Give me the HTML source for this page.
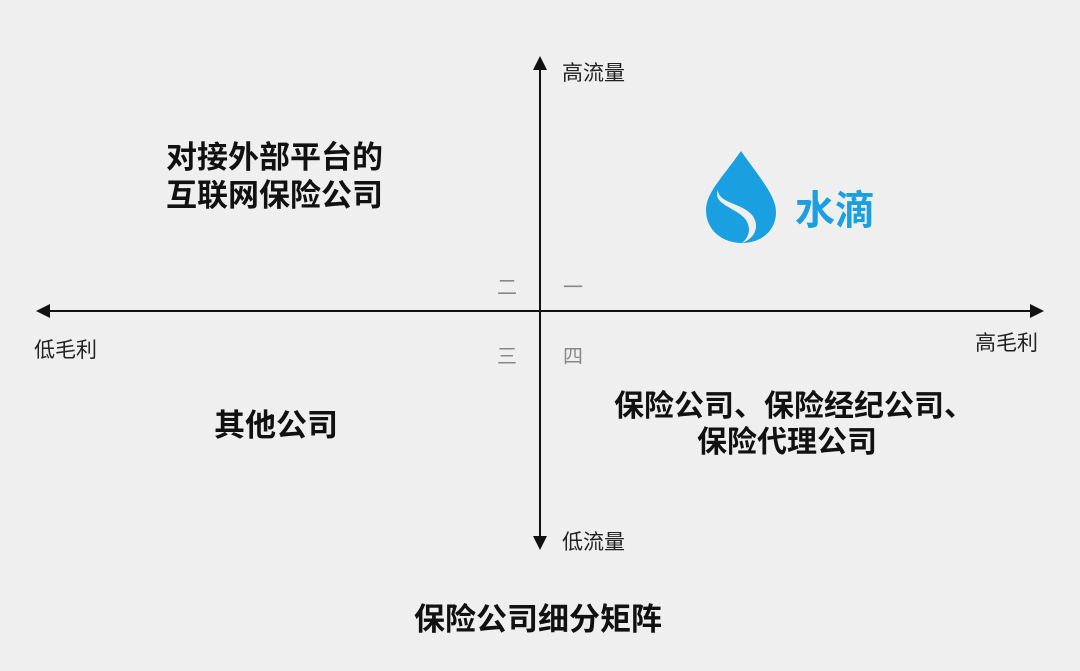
<!DOCTYPE html>
<html><head><meta charset="utf-8"><style>
html,body{margin:0;padding:0;background:#efefef;}
body{width:1080px;height:671px;position:relative;overflow:hidden;font-family:"Liberation Sans","Noto Sans CJK SC",sans-serif;}
.t{position:absolute;white-space:nowrap;color:#111;}
.b{font-weight:bold;font-size:31px;line-height:38px;}
.s{font-size:21px;color:#222;}
.g{font-size:20px;color:#888;}
</style></head><body>
<svg width="1080" height="671" style="position:absolute;left:0;top:0">
<line x1="540" y1="68" x2="540" y2="540" stroke="#111" stroke-width="2"/>
<polygon points="540,56 533,70 547,70" fill="#111"/>
<polygon points="540,550 533,536 547,536" fill="#111"/>
<line x1="48" y1="311" x2="1030" y2="311" stroke="#111" stroke-width="2"/>
<polygon points="36,311 50,304 50,318" fill="#111"/>
<polygon points="1044,311 1030,304 1030,318" fill="#111"/>
<path d="M741,151 C760,178 776,196 776,212 C776,231 761,243 742,243 C722,243 706,230 706,210 C706,193 722,178 741,151 Z" fill="#1a9fe0"/>
<path d="M718,190 C712,205 738,208 746,220 C752,230 748,238 742,243 C756,238 760,225 752,215 C742,203 718,203 718,190 Z" fill="#efefef"/>
</svg>
<div class="t" style="left:795px;top:178px;font-size:40px;font-weight:bold;color:#1a9fe0;">水滴</div>
<div class="t s" style="left:562px;top:57px;">高流量</div>
<div class="t s" style="left:562px;top:526px;">低流量</div>
<div class="t s" style="left:34px;top:334px;">低毛利</div>
<div class="t s" style="left:975px;top:327px;">高毛利</div>
<div class="t g" style="left:497px;top:271px;">二</div>
<div class="t g" style="left:563px;top:271px;">一</div>
<div class="t g" style="left:497px;top:340px;">三</div>
<div class="t g" style="left:563px;top:340px;">四</div>
<div class="t b" style="left:166px;top:139px;">对接外部平台的<br>互联网保险公司</div>
<div class="t b" style="left:214px;top:407px;">其他公司</div>
<div class="t b" style="left:614px;top:388px;font-size:30px;">保险公司、保险经纪公司、</div>
<div class="t b" style="left:697px;top:424px;font-size:30px;">保险代理公司</div>
<div class="t b" style="left:414px;top:601px;">保险公司细分矩阵</div>
</body></html>
